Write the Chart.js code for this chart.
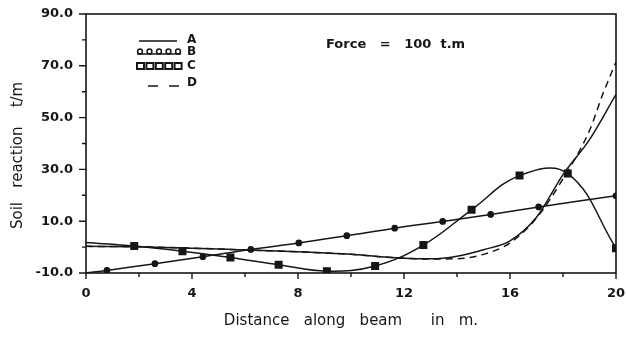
<!DOCTYPE html>
<html lang="en">
<head>
<meta charset="UTF-8">
<title>Soil reaction along beam</title>
<script src="https://cdn.jsdelivr.net/npm/chart.js@4"></script>
<style>
  body { margin: 0; background: #fff; }
  canvas { display: block; }
</style>
</head>
<body>
<canvas id="chart" width="626" height="338"></canvas>
<script>
// Soil reaction (t/m) along the beam (m), four solutions A-D
const distA = [0, 2, 4, 6, 8, 10, 11, 12, 13, 14, 15, 16, 17, 18, 19, 20];
const reactA = [0.3, 0.1, -0.4, -1.1, -1.8, -2.8, -3.6, -4.3, -4.5, -3.5, -1.0, 2.4, 11.5, 28, 41.5, 59];

const distB = [0, 0.79, 2.6, 4.41, 6.22, 8.03, 9.84, 11.65, 13.46, 15.27, 17.08, 20];
const reactB = [-10, -9.0, -6.4, -3.7, -0.9, 1.6, 4.4, 7.3, 9.9, 12.6, 15.5, 19.8];

const distC = [0, 1.82, 3.64, 5.45, 7.27, 9.09, 10.91, 12.73, 14.55, 16.36, 18.18, 20];
const reactC = [1.8, 0.4, -1.6, -4.0, -6.8, -9.3, -7.3, 0.8, 14.4, 27.6, 28.4, -0.4];

const distD = [0, 2, 4, 6, 8, 10, 11, 12, 13, 14, 15, 16, 17, 18, 19, 19.5, 20];
const reactD = [0.3, 0.1, -0.4, -1.1, -1.8, -2.8, -3.6, -4.3, -4.6, -4.5, -2.8, 1.6, 11.2, 26.4, 45, 59, 71.5];

const seriesNames = ['A', 'B', 'C', 'D'];
const yTicks = { min: -10, max: 90, step: 10 };
const xTicks = { min: 0, max: 20, step: 2 };

const INK = '#161616';
const FONT = '"DejaVu Sans", "Liberation Sans", sans-serif';

function toPoints(xs, ys) {
  return xs.map((x, i) => ({ x: x, y: ys[i] }));
}

// frame, tick marks, legend and the load note
const decorations = {
  id: 'decorations',
  afterDraw(chart) {
    const { ctx, chartArea: area, scales } = chart;
    ctx.save();
    ctx.strokeStyle = INK;
    ctx.fillStyle = INK;
    ctx.lineWidth = 1.6;
    ctx.strokeRect(area.left, area.top, area.right - area.left, area.bottom - area.top);

    // tick marks, outside the frame
    ctx.lineWidth = 1.4;
    ctx.beginPath();
    for (let v = yTicks.min; v <= yTicks.max; v += yTicks.step) {
      const y = scales.y.getPixelForValue(v);
      const len = (v - yTicks.min) % 20 === 0 ? 7 : 4;
      ctx.moveTo(area.left - len, y);
      ctx.lineTo(area.left, y);
    }
    for (let v = xTicks.min; v <= xTicks.max; v += xTicks.step) {
      const x = scales.x.getPixelForValue(v);
      const len = v % 4 === 0 ? 6 : 4;
      ctx.moveTo(x, area.bottom);
      ctx.lineTo(x, area.bottom + len);
    }
    ctx.stroke();

    // legend
    const lx = 137, lw = 44;
    ctx.lineWidth = 1.5;
    ctx.beginPath();
    ctx.moveTo(lx + 2, 41); ctx.lineTo(lx + lw - 4, 41);
    ctx.stroke();

    ctx.beginPath();
    ctx.moveTo(lx, 54); ctx.lineTo(lx + lw, 54);
    ctx.stroke();
    for (let i = 0; i < 5; i++) {
      ctx.beginPath();
      ctx.arc(lx + 3 + i * 9.5, 51.5, 2.4, 0, Math.PI * 2);
      ctx.stroke();
    }

    ctx.lineWidth = 2;
    for (let i = 0; i < 5; i++) {
      ctx.strokeRect(lx + i * 9.4, 63, 7, 6);
    }

    ctx.lineWidth = 1.5;
    ctx.setLineDash([10, 11]);
    ctx.beginPath();
    ctx.moveTo(lx + 11, 86); ctx.lineTo(lx + lw, 86);
    ctx.stroke();
    ctx.setLineDash([]);

    ctx.font = 'bold 12px ' + FONT;
    ctx.textBaseline = 'middle';
    ctx.textAlign = 'left';
    [40, 52, 66, 83].forEach((y, i) => ctx.fillText(seriesNames[i], 187, y));

    ctx.font = 'bold 13px ' + FONT;
    ctx.fillText('Force   =   100  t.m', 326, 45);
    ctx.restore();
  }
};

const lineStyle = { borderColor: INK, backgroundColor: INK, borderWidth: 1.5, tension: 0.4, fill: false };

new Chart(document.getElementById('chart'), {
  type: 'line',
  data: {
    datasets: [
      Object.assign({ label: 'A', data: toPoints(distA, reactA), pointRadius: 0,
        cubicInterpolationMode: 'monotone' }, lineStyle),
      Object.assign({ label: 'B', data: toPoints(distB, reactB), pointStyle: 'circle',
        pointRadius: (c) => (c.dataIndex === 0 ? 0 : 2.6) }, lineStyle),
      Object.assign({ label: 'C', data: toPoints(distC, reactC), pointStyle: 'rect',
        pointRadius: (c) => (c.dataIndex === 0 ? 0 : 4.6) }, lineStyle),
      Object.assign({ label: 'D', data: toPoints(distD, reactD), pointRadius: 0,
        borderDash: [7, 5], cubicInterpolationMode: 'monotone' }, lineStyle)
    ]
  },
  options: {
    responsive: false,
    animation: false,
    devicePixelRatio: 1,
    layout: { padding: { top: 14, right: 0, left: 0, bottom: 0 } },
    plugins: { legend: { display: false }, tooltip: { enabled: false } },
    scales: {
      x: {
        type: 'linear',
        min: xTicks.min,
        max: xTicks.max,
        border: { display: false },
        grid: { display: false, drawTicks: false },
        ticks: {
          stepSize: xTicks.step,
          autoSkip: false,
          maxRotation: 0,
          padding: 13,
          color: INK,
          font: { family: FONT, size: 13, weight: 'bold' },
          callback: (v) => (v % 4 === 0 ? String(v) : '')
        },
        title: {
          display: true,
          text: 'Distance   along   beam      in   m.',
          color: INK,
          font: { family: FONT, size: 15 },
          padding: { top: 0, bottom: 8 }
        },
        afterFit: (scale) => {
          scale.height = 65;
          scale.paddingLeft = 0;
          scale.paddingRight = 10;
        }
      },
      y: {
        min: yTicks.min,
        max: yTicks.max,
        border: { display: false },
        grid: { display: false, drawTicks: false },
        ticks: {
          stepSize: yTicks.step,
          autoSkip: false,
          padding: 13,
          color: INK,
          font: { family: FONT, size: 13, weight: 'bold' },
          callback: (v) => ((v - yTicks.min) % 20 === 0 ? v.toFixed(1) : '')
        },
        title: {
          display: true,
          text: 'Soil   reaction    t/m     ',
          color: INK,
          font: { family: FONT, size: 15 },
          padding: { top: 9, bottom: 0 }
        },
        afterFit: (scale) => {
          scale.width = 86;
          scale.paddingTop = 0;
          scale.paddingBottom = 0;
        }
      }
    }
  },
  plugins: [decorations]
});
</script>
</body>
</html>
